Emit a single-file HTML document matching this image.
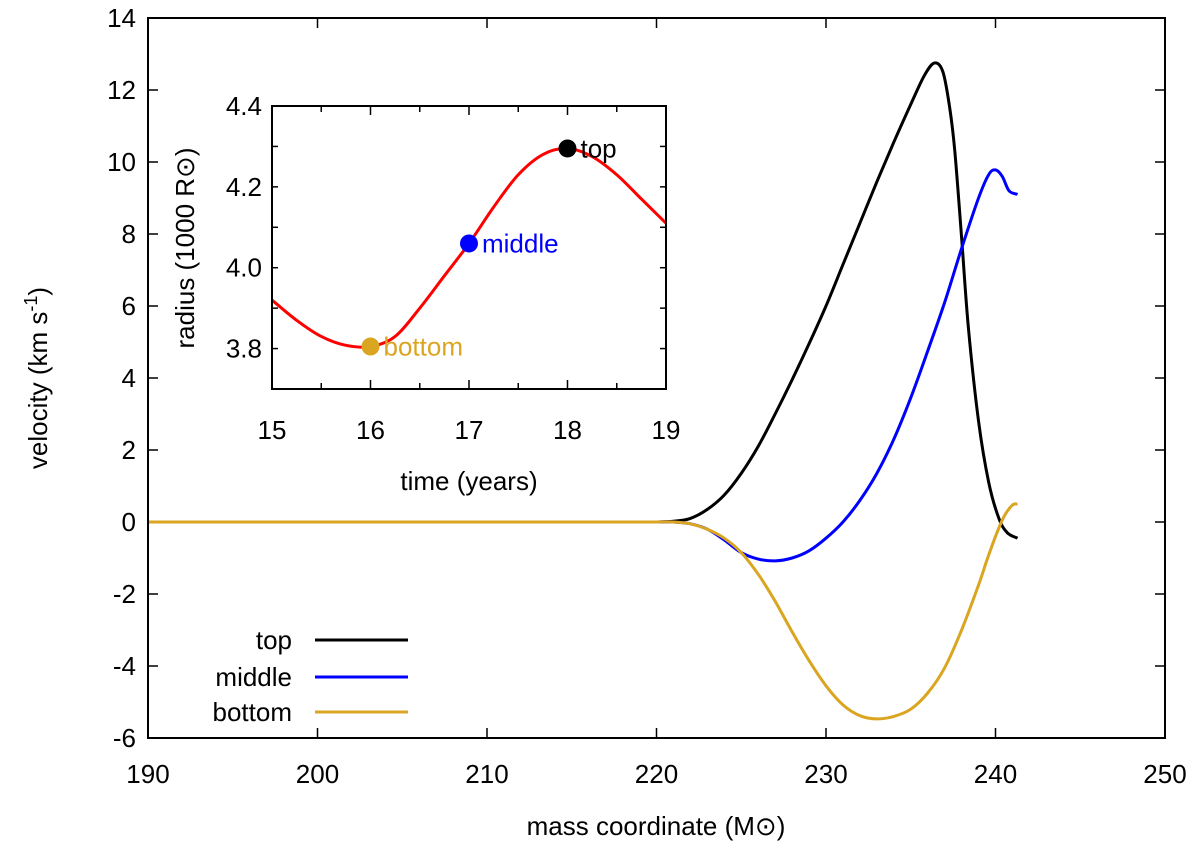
<!DOCTYPE html>
<html><head><meta charset="utf-8"><style>
body{margin:0;background:#fff}
text{font-family:"Liberation Sans",sans-serif;fill:#000}
</style></head><body>
<svg id="c" width="1200" height="848" xmlns="http://www.w3.org/2000/svg"></svg>
<script>
const topX=[190,200,210,216,218,219,220,221,222,223,224,225,226,227,228,229,230,231,232,233,234,235,235.8,236.4,236.9,237.3,237.6,238,238.4,239,239.6,240.2,240.7,241.3];
const topV=[0,0,0,0,0,0,0,0.02,0.1,0.35,0.75,1.35,2.1,3.0,3.95,4.95,6.0,7.15,8.3,9.45,10.55,11.6,12.4,12.75,12.5,11.5,10.3,7.9,5.4,2.8,1.1,0.1,-0.3,-0.45];
const midX=[190,200,210,216,218,219,220,221,222,223,224,225,226,227,228,229,230,231,232,233,234,235,236,237,238,239,239.6,240,240.4,240.8,241.3];
const midV=[0,0,0,0,0,0,0,0,-0.05,-0.2,-0.5,-0.85,-1.03,-1.08,-1.0,-0.8,-0.45,0.0,0.6,1.35,2.3,3.45,4.75,6.1,7.6,9.0,9.65,9.78,9.6,9.2,9.1];
const botX=[190,200,210,216,218,219,220,221,222,223,224,225,226,227,228,229,230,231,232,233,234,235,236,237,238,239,239.5,240,240.5,241,241.3];
const botV=[0,0,0,0,0,0,0,0,-0.05,-0.2,-0.45,-0.85,-1.45,-2.2,-3.05,-3.85,-4.55,-5.08,-5.38,-5.47,-5.4,-5.2,-4.75,-4.05,-3.0,-1.75,-1.05,-0.4,0.15,0.47,0.5];
const xTicks=[190,200,210,220,230,240,250];
const yTicks=[-6,-4,-2,0,2,4,6,8,10,12,14];
const insetT=[15,15.25,15.5,15.75,16,16.25,16.5,16.75,17,17.25,17.5,17.75,18,18.25,18.5,18.75,19];
const insetR=[3.92,3.87,3.83,3.808,3.805,3.83,3.9,3.98,4.06,4.15,4.23,4.28,4.295,4.275,4.23,4.17,4.11];
const insetXTicks=[15,16,17,18,19];
const insetYTicks=[3.8,4.0,4.2,4.4];
const markT=[16,17,18];
const markR=[3.805,4.06,4.295];
const markLabels=['bottom','middle','top'];
const markColors=['#daa520','#0000ff','#000000'];

const svg=document.getElementById('c');
const NS='http://www.w3.org/2000/svg';
function el(tag,attrs,parent){const e=document.createElementNS(NS,tag);for(const k in attrs)e.setAttribute(k,attrs[k]);(parent||svg).appendChild(e);return e;}
const L=148,R=1165,T=18,B=738;
const sx=v=>L+(v-190)/60*(R-L);
const sy=v=>B-(v+6)/20*(B-T);
const IL=272,IR=666,IT=106,IB=389;
const ix=v=>IL+(v-15)/4*(IR-IL);
const iy=v=>IB-(v-3.7)/0.7*(IB-IT);
function smooth(xs,ys){let p=[];for(let i=0;i<xs.length;i++)p.push([xs[i],ys[i]]);
 let d='M'+p[0][0]+','+p[0][1];
 for(let i=0;i<p.length-1;i++){const p0=p[Math.max(0,i-1)],p1=p[i],p2=p[i+1],p3=p[Math.min(p.length-1,i+2)];
  d+=' C'+(p1[0]+(p2[0]-p0[0])/6)+','+(p1[1]+(p2[1]-p0[1])/6)+' '+(p2[0]-(p3[0]-p1[0])/6)+','+(p2[1]-(p3[1]-p1[1])/6)+' '+p2[0]+','+p2[1];}
 return d;}

xTicks.forEach(v=>{const x=sx(v);
 let t=el('line',{x1:x,x2:x,y1:B,y2:B-10,stroke:'#000','stroke-width':1.5});
 
 t=el('line',{x1:x,x2:x,y1:T,y2:T+10,stroke:'#000','stroke-width':1.5});
 
 const lb=el('text',{x:x,y:B+45,'text-anchor':'middle','font-size':26});lb.textContent=v;
 });
yTicks.forEach(v=>{const y=sy(v);
 let t=el('line',{x1:L,x2:L+10,y1:y,y2:y,stroke:'#000','stroke-width':1.5});
 
 t=el('line',{x1:R,x2:R-10,y1:y,y2:y,stroke:'#000','stroke-width':1.5});
 
 const lb=el('text',{x:L-12,y:y+9,'text-anchor':'end','font-size':26});lb.textContent=v;
 });

[[topX,topV,'#000','series-top'],[midX,midV,'#0000ff','series-middle'],[botX,botV,'#daa520','series-bottom']].forEach(s=>{
 const p=el('path',{d:smooth(s[0].map(sx),s[1].map(sy)),fill:'none',stroke:s[2],'stroke-width':3});
 });

const frame=el('rect',{x:L,y:T,width:R-L,height:B-T,fill:'none',stroke:'#000','stroke-width':2});


[['top','#000',640],['middle','#0000ff',677],['bottom','#daa520',712]].forEach(l=>{
 const t=el('text',{x:292,y:l[2]+9,'text-anchor':'end','font-size':26});t.textContent=l[0];
 
 const ln=el('line',{x1:315,x2:408,y1:l[2],y2:l[2],stroke:l[1],'stroke-width':3});
 });

let at=el('text',{x:656,y:835,'text-anchor':'middle','font-size':26});at.textContent='mass coordinate (M\u2299)';

at=el('text',{x:0,y:0,'text-anchor':'middle','font-size':26,transform:'translate(47,378) rotate(-90)'});
at.innerHTML='velocity (km s<tspan dy="-10" font-size="18">-1</tspan><tspan dy="10">)</tspan>';


const ib=el('rect',{x:IL,y:IT,width:IR-IL,height:IB-IT,fill:'#fff',stroke:'none'});

for(let v=15;v<=19.01;v+=0.5){const x=ix(v),len=(Math.abs(v-Math.round(v))<0.01)?9:6;
 let t=el('line',{x1:x,x2:x,y1:IB,y2:IB-len,stroke:'#000','stroke-width':1.5});
 
 t=el('line',{x1:x,x2:x,y1:IT,y2:IT+len,stroke:'#000','stroke-width':1.5});
 }
for(let v=3.7;v<=4.41;v+=0.1){const y=iy(v);
 let t=el('line',{x1:IL,x2:IL+6,y1:y,y2:y,stroke:'#000','stroke-width':1.5});
 
 t=el('line',{x1:IR,x2:IR-6,y1:y,y2:y,stroke:'#000','stroke-width':1.5});
 }
insetXTicks.forEach(v=>{const lb=el('text',{x:ix(v),y:IB+50,'text-anchor':'middle','font-size':26});lb.textContent=v;
 });
insetYTicks.forEach(v=>{const lb=el('text',{x:IL-10,y:iy(v)+9,'text-anchor':'end','font-size':26});lb.textContent=v.toFixed(1);
 });
const rc=el('path',{d:smooth(insetT.map(ix),insetR.map(iy)),fill:'none',stroke:'#ff0000','stroke-width':3});

const ifr=el('rect',{x:IL,y:IT,width:IR-IL,height:IB-IT,fill:'none',stroke:'#000','stroke-width':2});

markT.forEach((t,i)=>{const cx=ix(t),cy=iy(markR[i]);
 const c=el('circle',{cx:cx,cy:cy,r:9,fill:markColors[i]});
 
 const lb=el('text',{x:cx+13,y:cy+9,'font-size':26,style:'fill:'+markColors[i]});lb.textContent=markLabels[i];
 });
at=el('text',{x:469,y:490,'text-anchor':'middle','font-size':26});at.textContent='time (years)';

at=el('text',{x:0,y:0,'text-anchor':'middle','font-size':26,transform:'translate(194,248) rotate(-90)'});at.textContent='radius (1000 R\u2299)';

</script>
</body></html>
